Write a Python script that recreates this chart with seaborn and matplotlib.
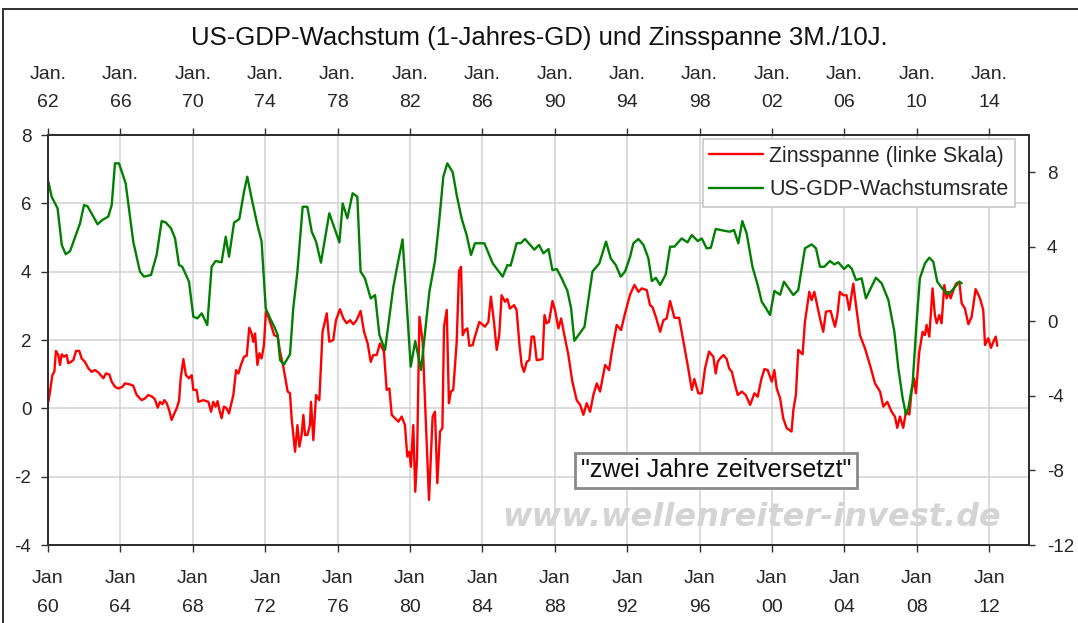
import matplotlib.pyplot as plt
import seaborn as sns
import pandas as pd
from matplotlib.patches import Rectangle

# Zinsspanne 3M/10J (linke Skala), Zeitpunkt in Dezimaljahren
spread_year = [
    1960.02, 1960.11, 1960.24, 1960.35, 1960.44, 1960.57, 1960.66, 1960.76, 1960.88, 1961.03,
    1961.12, 1961.27, 1961.40, 1961.55, 1961.73, 1961.86, 1962.04, 1962.23, 1962.41, 1962.60,
    1962.78, 1962.93, 1963.06, 1963.20, 1963.39, 1963.52, 1963.70, 1963.89, 1964.11, 1964.25,
    1964.53, 1964.71, 1964.90, 1965.17, 1965.36, 1965.54, 1965.76, 1965.91, 1966.06, 1966.19,
    1966.32, 1966.43, 1966.56, 1966.69, 1966.83, 1966.98, 1967.11, 1967.24, 1967.33, 1967.48,
    1967.62, 1967.79, 1967.94, 1968.03, 1968.21, 1968.31, 1968.58, 1968.86, 1969.01, 1969.13,
    1969.26, 1969.37, 1969.45, 1969.59, 1969.72, 1969.87, 1970.00, 1970.24, 1970.39, 1970.52,
    1970.66, 1970.83, 1970.98, 1971.12, 1971.25, 1971.34, 1971.44, 1971.57, 1971.68, 1971.80,
    1971.93, 1972.04, 1972.17, 1972.32, 1972.50, 1972.69, 1972.82, 1973.00, 1973.24, 1973.37,
    1973.46, 1973.65, 1973.78, 1973.89, 1974.01, 1974.11, 1974.20, 1974.33, 1974.47, 1974.53,
    1974.66, 1974.81, 1974.99, 1975.17, 1975.40, 1975.54, 1975.76, 1975.91, 1976.13, 1976.32,
    1976.50, 1976.69, 1976.87, 1977.05, 1977.27, 1977.46, 1977.66, 1977.83, 1977.97, 1978.16,
    1978.34, 1978.56, 1978.71, 1978.86, 1978.99, 1979.17, 1979.36, 1979.54, 1979.72, 1979.85,
    1979.96, 1980.05, 1980.18, 1980.29, 1980.39, 1980.52, 1980.70, 1980.83, 1981.05, 1981.25,
    1981.38, 1981.51, 1981.66, 1981.79, 1981.88, 1982.03, 1982.15, 1982.26, 1982.39, 1982.58,
    1982.71, 1982.82, 1982.91, 1983.04, 1983.17, 1983.28, 1983.46, 1983.59, 1983.83, 1984.14,
    1984.33, 1984.47, 1984.64, 1984.79, 1984.93, 1985.06, 1985.25, 1985.38, 1985.52, 1985.75,
    1985.89, 1986.04, 1986.17, 1986.30, 1986.45, 1986.59, 1986.72, 1986.85, 1987.00, 1987.32,
    1987.43, 1987.55, 1987.68, 1987.87, 1988.01, 1988.20, 1988.35, 1988.53, 1988.75, 1988.97,
    1989.21, 1989.40, 1989.58, 1989.76, 1989.95, 1990.13, 1990.32, 1990.50, 1990.78, 1991.00,
    1991.15, 1991.42, 1991.66, 1991.88, 1992.16, 1992.40, 1992.62, 1992.80, 1993.08, 1993.26,
    1993.39, 1993.58, 1993.82, 1994.00, 1994.18, 1994.37, 1994.61, 1994.87, 1995.11, 1995.34,
    1995.57, 1995.71, 1995.93, 1996.12, 1996.30, 1996.52, 1996.76, 1996.89, 1997.00, 1997.13,
    1997.32, 1997.50, 1997.63, 1997.78, 1997.96, 1998.11, 1998.33, 1998.55, 1998.79, 1999.03,
    1999.21, 1999.40, 1999.58, 1999.76, 1999.99, 2000.13, 2000.26, 2000.45, 2000.62, 2000.81,
    2001.08, 2001.18, 2001.32, 2001.45, 2001.69, 2001.82, 2002.06, 2002.19, 2002.34, 2002.61,
    2002.83, 2002.98, 2003.24, 2003.35, 2003.48, 2003.61, 2003.75, 2003.94, 2004.12, 2004.27,
    2004.49, 2004.64, 2004.86, 2005.14, 2005.41, 2005.69, 2005.97, 2006.15, 2006.37, 2006.61,
    2006.79, 2006.92, 2007.07, 2007.25, 2007.40, 2007.59, 2007.71, 2007.84, 2007.95, 2008.14,
    2008.32, 2008.45, 2008.54, 2008.69, 2008.87, 2009.00, 2009.10, 2009.24, 2009.37, 2009.52,
    2009.65, 2009.74, 2009.87, 2010.02, 2010.17, 2010.35, 2010.48, 2010.66, 2010.85, 2011.03,
    2011.25, 2011.49, 2011.67, 2011.77, 2011.95, 2012.10, 2012.23, 2012.36, 2012.45,
]
spread_value = [
    0.19, 0.49, 0.97, 1.07, 1.68, 1.56, 1.27, 1.58, 1.51, 1.56,
    1.32, 1.36, 1.41, 1.68, 1.68, 1.46, 1.36, 1.17, 1.07, 1.12,
    1.05, 0.96, 0.88, 1.02, 0.99, 0.78, 0.63, 0.58, 0.63, 0.73,
    0.70, 0.66, 0.39, 0.24, 0.29, 0.39, 0.34, 0.26, 0.02, 0.19,
    0.12, 0.24, 0.15, -0.05, -0.34, -0.15, 0.00, 0.22, 0.88, 1.44,
    0.97, 0.88, 0.97, 0.54, 0.54, 0.19, 0.24, 0.19, -0.10, 0.19,
    0.05, 0.21, 0.00, -0.29, 0.05, 0.00, -0.15, 0.39, 1.12, 1.02,
    1.27, 1.51, 1.54, 2.36, 2.19, 1.95, 2.19, 1.27, 1.61, 1.46,
    1.85, 2.83, 2.68, 2.44, 2.14, 2.10, 1.66, 1.22, 0.49, 0.44,
    -0.29, -1.27, -0.49, -1.12, -0.78, -0.19, -0.78, -0.78, -0.49, 0.19,
    -0.93, 0.39, 0.24, 2.24, 2.78, 1.95, 2.00, 2.58, 2.90, 2.63,
    2.49, 2.58, 2.46, 2.58, 2.85, 2.24, 1.90, 1.36, 1.56, 1.56,
    1.90, 1.66, 0.54, 0.58, -0.19, -0.29, -0.39, -0.24, -0.49, -1.41,
    -1.27, -1.71, -0.49, -2.44, -1.46, 2.68, 1.95, 0.19, -2.68, -0.24,
    -0.10, -2.19, -0.68, -0.58, 2.39, 2.88, 0.15, 0.49, 0.54, 1.95,
    4.02, 4.14, 2.14, 2.29, 2.34, 1.83, 1.85, 2.10, 2.53, 2.39,
    2.53, 3.27, 2.53, 1.71, 2.14, 3.31, 3.12, 3.20, 2.92, 3.02,
    2.88, 1.90, 1.27, 1.07, 1.36, 1.41, 2.10, 2.10, 1.41, 1.44,
    2.73, 2.49, 2.53, 3.14, 2.88, 2.34, 2.63, 2.14, 1.56, 0.78,
    0.24, 0.10, -0.19, 0.15, -0.10, 0.39, 0.73, 0.49, 1.27, 1.12,
    1.66, 2.44, 2.29, 2.78, 3.33, 3.61, 3.41, 3.51, 3.46, 3.02,
    2.97, 2.68, 2.24, 2.58, 2.63, 3.14, 2.65, 2.65, 1.95, 1.27,
    0.54, 0.86, 0.44, 0.44, 1.17, 1.66, 1.51, 1.02, 1.36, 1.46,
    1.56, 1.44, 1.17, 1.07, 0.68, 0.39, 0.49, 0.39, 0.10, 0.44,
    0.34, 0.83, 1.15, 1.12, 0.78, 1.12, 0.58, 0.29, -0.29, -0.58,
    -0.68, -0.05, 0.39, 1.71, 1.58, 2.53, 3.41, 3.17, 3.41, 2.73,
    2.24, 2.83, 2.85, 2.63, 2.39, 2.73, 3.41, 3.31, 3.31, 2.88,
    3.65, 3.02, 2.14, 1.75, 1.27, 0.73, 0.49, 0.05, 0.19, -0.10,
    -0.24, -0.57, -0.24, -0.57, -0.10, -0.18, 0.49, 0.88, 0.44, 1.66,
    2.24, 2.14, 2.44, 2.10, 3.51, 2.73, 2.49, 2.73, 2.49, 3.61,
    3.22, 3.41, 3.22, 3.46, 3.65, 3.70, 3.07, 2.92, 2.46, 2.68,
    3.49, 3.22, 2.88, 1.85, 2.05, 1.77, 1.95, 2.10, 1.83,
]

# US-GDP-Wachstumsrate (rechte Skala), um zwei Jahre vorgezogen
gdp_year = [
    1960.02, 1960.20, 1960.53, 1960.76, 1960.98, 1961.22, 1961.77, 1961.99, 1962.19, 1962.74,
    1963.00, 1963.33, 1963.52, 1963.70, 1963.92, 1964.29, 1964.71, 1965.08, 1965.30, 1965.69,
    1966.00, 1966.28, 1966.50, 1966.80, 1967.02, 1967.24, 1967.42, 1967.79, 1968.03, 1968.25,
    1968.49, 1968.80, 1969.04, 1969.26, 1969.59, 1969.82, 1970.00, 1970.28, 1970.57, 1970.83,
    1971.01, 1971.25, 1971.57, 1971.80, 1972.03, 1972.27, 1972.50, 1972.69, 1972.82, 1973.04,
    1973.37, 1973.55, 1973.78, 1974.07, 1974.33, 1974.57, 1974.81, 1975.08, 1975.54, 1976.10,
    1976.28, 1976.54, 1976.83, 1977.09, 1977.27, 1977.51, 1977.83, 1978.07, 1978.31, 1978.62,
    1979.08, 1979.36, 1979.59, 1980.04, 1980.29, 1980.61, 1981.07, 1981.38, 1981.60, 1981.84,
    1982.06, 1982.36, 1982.58, 1982.85, 1983.13, 1983.37, 1983.59, 1984.11, 1984.57, 1985.12,
    1985.38, 1985.56, 1985.89, 1986.13, 1986.35, 1986.87, 1987.13, 1987.37, 1987.65, 1987.87,
    1988.11, 1988.38, 1988.70, 1988.90, 1989.08, 1989.64, 1990.08, 1990.46, 1990.83, 1991.09,
    1991.37, 1991.64, 1991.88, 1992.16, 1992.34, 1992.62, 1992.90, 1993.17, 1993.36, 1993.58,
    1993.82, 1994.13, 1994.37, 1994.61, 1995.01, 1995.33, 1995.57, 1995.90, 1996.12, 1996.39,
    1996.62, 1996.89, 1997.32, 1997.68, 1997.90, 1998.14, 1998.36, 1998.60, 1998.92, 1999.21,
    1999.43, 1999.67, 1999.89, 2000.13, 2000.45, 2000.66, 2001.18, 2001.45, 2001.82, 2002.19,
    2002.43, 2002.65, 2002.89, 2003.20, 2003.44, 2003.66, 2003.98, 2004.21, 2004.40, 2004.64,
    2004.95, 2005.19, 2005.45, 2005.74, 2006.06, 2006.43, 2006.76, 2006.98, 2007.22, 2007.40,
    2007.53, 2007.77, 2007.99, 2008.17, 2008.45, 2008.69, 2008.91, 2009.13, 2009.43, 2009.74,
    2010.02, 2010.35, 2010.48,
]
gdp_value = [
    7.50, 6.69, 6.06, 4.10, 3.60, 3.77, 5.26, 6.24, 6.17, 5.21,
    5.44, 5.62, 6.24, 8.48, 8.48, 7.41, 4.28, 2.67, 2.40, 2.49,
    3.56, 5.38, 5.31, 4.99, 4.45, 3.02, 2.93, 2.13, 0.25, 0.16,
    0.43, -0.20, 2.93, 3.24, 3.17, 4.54, 3.47, 5.30, 5.49, 6.96,
    7.76, 6.60, 5.17, 4.28, 0.70, 0.16, -0.29, -0.73, -2.08, -2.31,
    -1.77, 0.70, 2.67, 6.15, 6.15, 4.81, 4.28, 3.15, 5.80, 4.24,
    6.33, 5.53, 6.87, 6.69, 2.67, 2.31, 1.23, 1.41, -0.73, -1.54,
    1.86, 3.29, 4.40, -2.43, -1.06, -2.61, 1.59, 3.24, 5.26, 7.76,
    8.48, 8.00, 6.78, 5.53, 4.63, 3.56, 4.19, 4.19, 3.11, 2.40,
    3.02, 2.99, 4.19, 4.20, 4.42, 3.85, 4.10, 3.65, 3.88, 2.75,
    2.81, 2.31, 1.63, 0.70, -1.04, -0.29, 2.67, 3.11, 4.28, 3.38,
    3.02, 2.40, 2.67, 3.47, 4.19, 4.42, 4.10, 3.38, 2.16, 2.34,
    1.95, 2.52, 4.01, 4.01, 4.45, 4.24, 4.63, 4.31, 4.45, 3.92,
    3.95, 4.96, 4.87, 4.81, 4.90, 4.19, 5.38, 4.72, 2.93, 1.95,
    1.06, 0.70, 0.34, 1.63, 1.43, 2.13, 1.41, 1.68, 3.92, 4.13,
    3.92, 2.93, 2.93, 3.24, 3.06, 3.17, 2.81, 3.02, 2.84, 2.22,
    2.31, 1.23, 1.77, 2.34, 2.04, 1.14, -0.55, -2.52, -4.13, -4.99,
    -4.67, -3.33, -0.02, 2.31, 3.11, 3.42, 3.20, 2.13, 1.74, 1.45,
    1.74, 2.13, 2.04,
]

tick_years = [1960, 1964, 1968, 1972, 1976, 1980, 1984, 1988, 1992, 1996, 2000, 2004, 2008, 2012]
bottom_labels = ['Jan\n60', 'Jan\n64', 'Jan\n68', 'Jan\n72', 'Jan\n76', 'Jan\n80', 'Jan\n84',
                 'Jan\n88', 'Jan\n92', 'Jan\n96', 'Jan\n00', 'Jan\n04', 'Jan\n08', 'Jan\n12']
top_labels = ['Jan.\n62', 'Jan.\n66', 'Jan.\n70', 'Jan.\n74', 'Jan.\n78', 'Jan.\n82', 'Jan.\n86',
              'Jan.\n90', 'Jan.\n94', 'Jan.\n98', 'Jan.\n02', 'Jan.\n06', 'Jan.\n10', 'Jan.\n14']
left_ticks = [-4, -2, 0, 2, 4, 6, 8]
right_ticks = [-12, -8, -4, 0, 4, 8]

sns.set_theme(style='white')
plt.rcParams['font.family'] = ['Liberation Sans', 'DejaVu Sans']
plt.rcParams['axes.unicode_minus'] = False

spread_df = pd.DataFrame({'jahr': spread_year, 'wert': spread_value})
gdp_df = pd.DataFrame({'jahr': gdp_year, 'wert': gdp_value})

W, H = 1078, 623
fig = plt.figure(figsize=(W / 100, H / 100), dpi=100)
ax = fig.add_axes([48 / W, 1 - 545 / H, (1029 - 48) / W, (545 - 135) / H])
ax2 = ax.twinx()

sns.lineplot(data=spread_df, x='jahr', y='wert', ax=ax, color='#ff0000', lw=1.7,
             label='Zinsspanne (linke Skala)')
sns.lineplot(data=gdp_df, x='jahr', y='wert', ax=ax2, color='#008000', lw=1.7,
             label='US-GDP-Wachstumsrate')

ax.set_xlim(1960, 1960 + (1029 - 48) / 18.1)
ax.set_ylim(-4, 8)
ax2.set_ylim(-12, 10)
ax.set_xlabel('')
ax.set_ylabel('')
ax2.set_ylabel('')

ax.set_xticks(tick_years, labels=bottom_labels)
ax.set_yticks(left_ticks)
ax2.set_yticks(right_ticks)
ax.grid(True, color='#d2d2d2', lw=1.1)
ax.set_axisbelow(True)

for a in (ax, ax2):
    for sp in a.spines.values():
        sp.set_color('#303030')
        sp.set_linewidth(1.4)

ax.tick_params(axis='x', bottom=True, direction='out', length=5, width=1, color='#303030',
               labelsize=14, pad=13)
ax.tick_params(axis='y', left=True, direction='out', length=5, width=1, color='#303030',
               labelsize=13.5, pad=7)
ax2.tick_params(axis='y', right=True, direction='out', length=4, width=1, color='#303030',
                labelsize=13.5, pad=9)
for t in ax.get_xticklabels():
    t.set_linespacing(1.9)

top = ax.secondary_xaxis('top')
top.set_xticks(tick_years, labels=top_labels)
top.tick_params(axis='x', top=True, direction='out', length=5, width=1, color='#303030',
                labelsize=14, pad=12.5)
top.spines['top'].set_color('#303030')
top.spines['top'].set_linewidth(1.4)
for t in top.get_xticklabels():
    t.set_linespacing(1.85)

# Legende aus beiden Achsen
h1, l1 = ax.get_legend_handles_labels()
h2, l2 = ax2.get_legend_handles_labels()
if ax.get_legend():
    ax.get_legend().remove()
leg = ax2.legend(h1 + h2, l1 + l2, loc='upper right', bbox_to_anchor=(0.9857, 0.99),
                 borderaxespad=0, fontsize=15.5, frameon=True, fancybox=False,
                 framealpha=1, edgecolor='#c8c8c8', handlelength=2.5, labelspacing=0.6,
                 borderpad=0.3, handletextpad=0.3)
leg.get_frame().set_linewidth(1.2)

fig.text(539 / W, 1 - 38 / H, 'US-GDP-Wachstum (1-Jahres-GD) und Zinsspanne 3M./10J.',
         ha='center', va='center', fontsize=18.5, color='#111111')

fig.text(716 / W, 1 - 470 / H, '"zwei Jahre zeitversetzt"', ha='center', va='center',
         fontsize=18, color='#111111',
         bbox=dict(boxstyle='square,pad=0.22', fc='white', ec='#8a8a8a', lw=2))

fig.text(752 / W, 1 - 517 / H, 'www.wellenreiter-invest.de', ha='center', va='center',
         fontsize=23, style='italic', fontweight='bold', color='#d4d4d4',
         family=['DejaVu Sans'])

# Rahmen um die Grafik
fig.add_artist(Rectangle((3 / W, -0.5), 2, 1.5 - 9 / H, transform=fig.transFigure,
                         fill=False, edgecolor='#202020', lw=1.3, clip_on=False))

fig.savefig('out.png', dpi=100)
